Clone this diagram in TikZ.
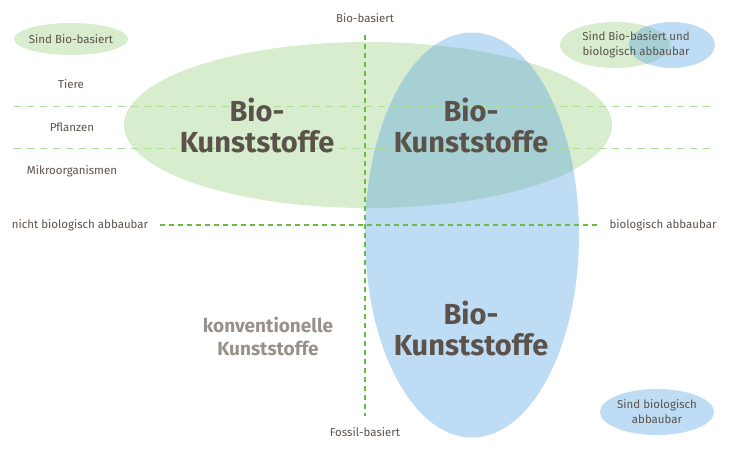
\documentclass[tikz,border=0pt]{standalone}
\usepackage{fontspec}
\setmainfont{Fira Sans}
\usetikzlibrary{shapes.geometric,positioning}
\definecolor{biogreen}{RGB}{216,236,206}
\definecolor{bioblue}{RGB}{190,221,244}
\definecolor{biomix}{RGB}{166,208,212}
\definecolor{axgreen}{RGB}{104,188,66}
\definecolor{sepgreen}{RGB}{172,222,150}
\definecolor{txtdark}{RGB}{92,82,76}
\definecolor{txtgray}{RGB}{152,144,138}
\tikzset{
  gell/.style={ellipse, fill=biogreen, inner sep=0pt},
  bell/.style={ellipse, fill=bioblue, inner sep=0pt},
  axl/.style={axgreen, line width=1.7pt, dash pattern=on 5pt off 4pt},
  sepl/.style={sepgreen, line width=1pt, dash pattern=on 7pt off 6pt},
  lab/.style={font=\fontsize{11.5}{15}\selectfont, text=txtdark, align=center},
  bigl/.style={font=\fontsize{29}{31}\selectfont\bfseries, text=txtdark, align=center},
  conv/.style={font=\fontsize{19}{23}\selectfont\bfseries, text=txtgray, align=center},
}

\begin{document}
\begin{tikzpicture}[x=1pt, y=-1pt]
  \useasboundingbox (0,0) rectangle (730,450);
  % areas
  \node[gell, minimum width=488pt, minimum height=166pt] (green) at (368,125) {};
  \node[bell, minimum width=214pt, minimum height=405pt] (blue) at (472,235) {};
  \begin{scope}
    \clip (472,235) ellipse [x radius=107, y radius=202.5];
    \fill[biomix] (368,125) ellipse [x radius=244, y radius=83];
  \end{scope}

  % legend
  \node[gell, minimum width=114pt, minimum height=32pt] (lgbio) at (71,39) {};
  \node[lab] at (lgbio) {Sind Bio-basiert};
  \node[gell, minimum width=110pt, minimum height=46pt] (lgboth) at (615,45) {};
  \node[bell, minimum width=86pt, minimum height=46pt] (lgbothb) at (672,45) {};
  \begin{scope}
    \clip (672,45) ellipse [x radius=43, y radius=23];
    \fill[biomix] (615,45) ellipse [x radius=55, y radius=23];
  \end{scope}
  \node[lab] at (636,45) {Sind Bio-basiert und\\biologisch abbaubar};
  \node[bell, minimum width=114pt, minimum height=46pt] (lgdeg) at (657,412) {};
  \node[lab] at (lgdeg) {Sind biologisch\\abbaubar};

  % separators
  \coordinate (s1l) at (14,106);  \coordinate (s1r) at (716,106);
  \coordinate (s2l) at (14,148);  \coordinate (s2r) at (716,148);
  \draw[sepl] (s1l) -- (s1r);
  \draw[sepl] (s2l) -- (s2r);

  % axes
  \node[lab] (top) at (365,18) {Bio-basiert};
  \node[lab] (bot) at (365,432) {Fossil-basiert};
  \node[lab] (left) at (80,225) {nicht biologisch abbaubar};
  \node[lab] (right) at (663,225) {biologisch abbaubar};
  \coordinate (ta) at (365,35);
  \coordinate (bb) at (365,416);
  \draw[axl] (ta) -- (bb);
  \draw[axl, shorten <=8pt, shorten >=6pt] (left.east) -- (right.west);

  \node[lab] (tiere) at (71,84) {Tiere};
  \node[lab] (pfl) at (72,127) {Pflanzen};
  \node[lab] (mikro) at (72,171) {Mikroorganismen};

  % labels
  \node[bigl] (bk1) at (257,125) {Bio-\\Kunststoffe};
  \node[bigl] (bk2) at (471,125) {Bio-\\Kunststoffe};
  \node[bigl] (bk3) at (471,328) {Bio-\\Kunststoffe};
  \node[conv] (konv) at (268,336) {konventionelle\\Kunststoffe};
\end{tikzpicture}
\end{document}
